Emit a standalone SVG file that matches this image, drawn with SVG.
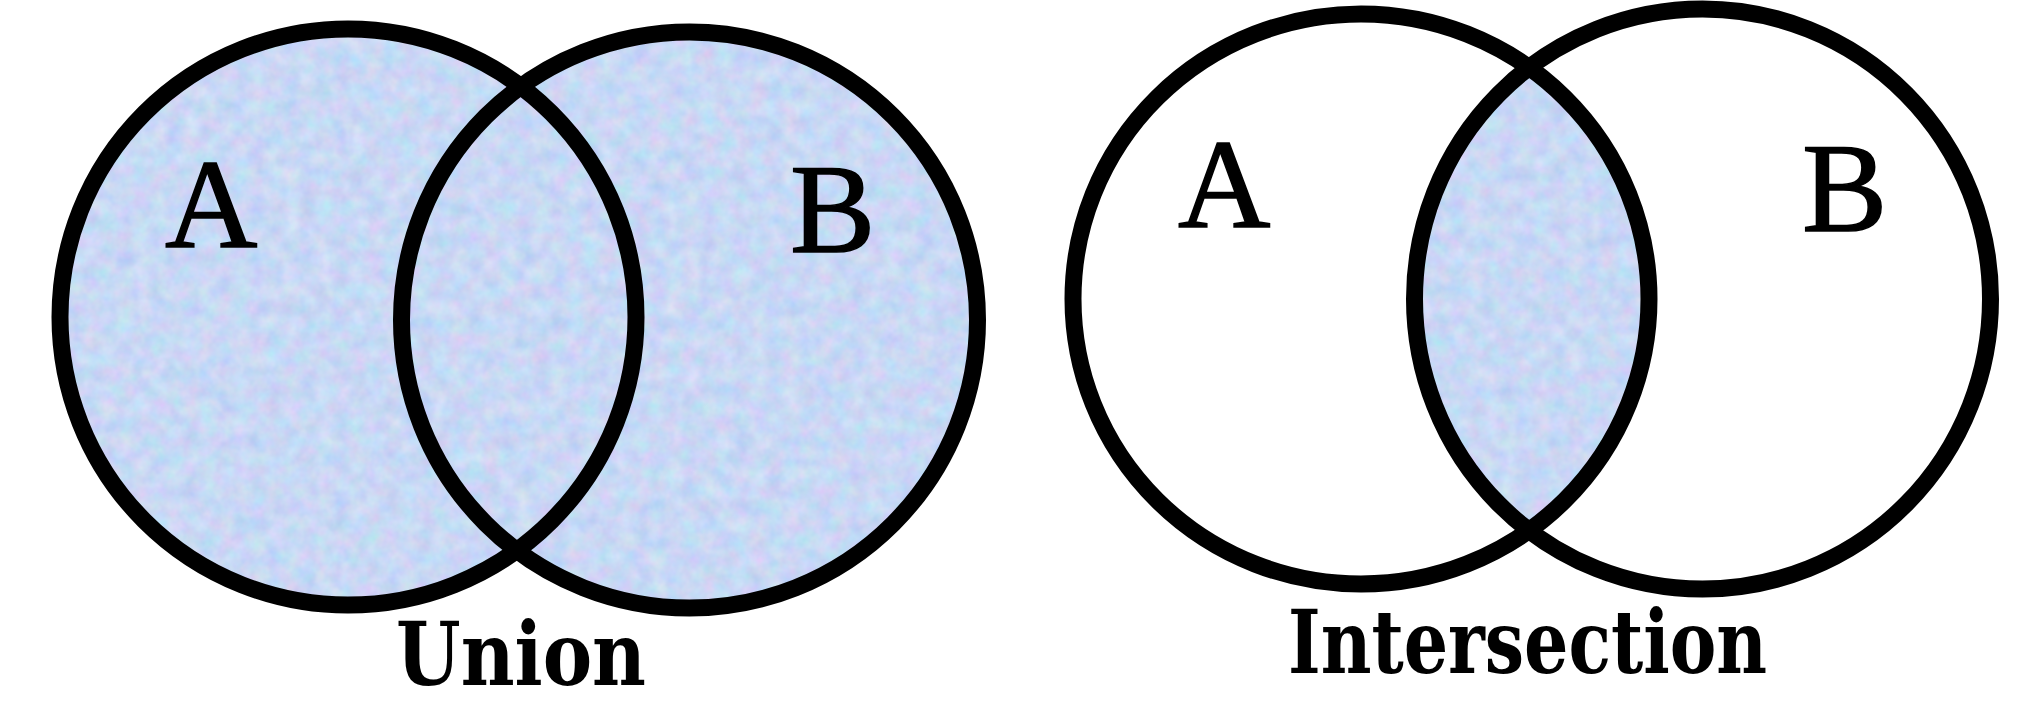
<svg xmlns="http://www.w3.org/2000/svg" width="2039" height="704" viewBox="0 0 2039 704">
  <style>
    .ring { fill: none; stroke: #000; stroke-width: 17; }
    .letter { font-family: "Liberation Serif", "Times New Roman", serif; font-size: 128px; fill: #000; stroke: #000; stroke-width: 1.5; }
    .caption { font-family: "DejaVu Serif Condensed", "DejaVu Serif", "Liberation Serif", serif; font-weight: bold; font-size: 88px; fill: #000; }
  </style>
  <defs>
    <filter id="tex" x="0" y="0" width="1" height="1" filterUnits="objectBoundingBox" color-interpolation-filters="sRGB">
      <feTurbulence type="fractalNoise" baseFrequency="0.06" numOctaves="3" seed="7" result="n"/>
      <feColorMatrix in="n" type="matrix" values="0.22 0 0 0 0.675  0 0.15 0 0 0.772  0 0 0.08 0 0.92  0 0 0 0 1"/>
    </filter>
    <clipPath id="unionClip">
      <circle cx="348" cy="317" r="288"/>
      <circle cx="689.5" cy="320" r="288"/>
    </clipPath>
    <clipPath id="rightA">
      <ellipse cx="1361" cy="299" rx="288" ry="285"/>
    </clipPath>
    <clipPath id="rightB">
      <ellipse cx="1702.5" cy="299" rx="288" ry="290"/>
    </clipPath>
  </defs>

  <rect width="2039" height="704" fill="#fff"/>

  <g id="union-fill" clip-path="url(#unionClip)">
    <rect x="40" y="20" width="960" height="610" filter="url(#tex)"/>
  </g>
  <g id="intersection-fill" clip-path="url(#rightA)">
    <g clip-path="url(#rightB)">
      <rect x="1390" y="0" width="300" height="600" filter="url(#tex)"/>
    </g>
  </g>

  <g id="union-A">
    <circle class="ring" cx="348" cy="317" r="288"/>
    <text class="letter" x="165" y="247">A</text>
  </g>
  <g id="union-B">
    <circle class="ring" cx="689.5" cy="320" r="288"/>
    <text class="letter" x="790" y="252">B</text>
  </g>
  <g id="intersection-A">
    <ellipse class="ring" cx="1361" cy="299" rx="288" ry="285"/>
    <text class="letter" x="1178" y="227">A</text>
  </g>
  <g id="intersection-B">
    <ellipse class="ring" cx="1702.5" cy="299" rx="288" ry="290"/>
    <text class="letter" x="1802" y="231">B</text>
  </g>
  <g id="connectors"/>

  <text id="union-label" class="caption" x="396" y="685" textLength="250" lengthAdjust="spacingAndGlyphs">Union</text>
  <text id="intersection-label" class="caption" x="1288" y="673" textLength="479" lengthAdjust="spacingAndGlyphs">Intersection</text>
</svg>
